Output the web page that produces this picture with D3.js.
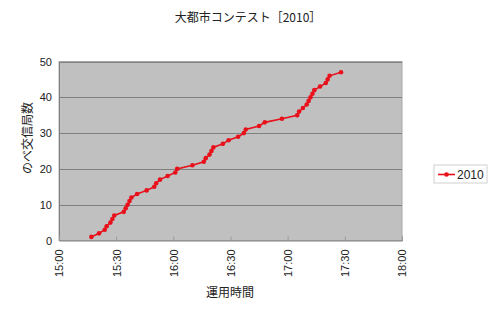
<!DOCTYPE html>
<html>
<head>
<meta charset="utf-8">
<script src="https://cdn.jsdelivr.net/npm/d3@7"></script>
<style>
  body { margin: 0; background: #fff; }
  svg { display: block; }
  text { font-family: "Liberation Sans", Arial, sans-serif; fill: #222; }
  .jp { font-family: "Noto Sans CJK JP", sans-serif; }
</style>
</head>
<body>
<svg id="chart" width="500" height="311"></svg>
<script>
// chart data
const seriesName = "2010";
const times = [
  "15:17", "15:21", "15:24", "15:25", "15:27", "15:28", "15:29", "15:34", "15:35", "15:36",
  "15:37", "15:38", "15:41", "15:46", "15:50", "15:51", "15:53", "15:57", "16:01", "16:02",
  "16:10", "16:16", "16:17", "16:19", "16:20", "16:21", "16:26", "16:29", "16:34", "16:37",
  "16:38", "16:45", "16:48", "16:57", "17:05", "17:06", "17:08", "17:10", "17:11", "17:12",
  "17:13", "17:14", "17:17", "17:20", "17:21", "17:22", "17:28"
];
const counts = [
  1, 2, 3, 4, 5, 6, 7, 8, 9, 10,
  11, 12, 13, 14, 15, 16, 17, 18, 19, 20,
  21, 22, 23, 24, 25, 26, 27, 28, 29, 30,
  31, 32, 33, 34, 35, 36, 37, 38, 39, 40,
  41, 42, 43, 44, 45, 46, 47
];
const xTickLabels = ["15:00", "15:30", "16:00", "16:30", "17:00", "17:30", "18:00"];
const yTicks = [0, 10, 20, 30, 40, 50];

const colors = {
  plotFill: "#c0c0c0",
  grid: "#808080",
  axis: "#808080",
  series: "#e8101a"
};

const parseTime = d3.timeParse("%H:%M");
const data = times.map((t, i) => ({ t: parseTime(t), v: counts[i] }));

const svg = d3.select("#chart");
const plot = { left: 59, right: 402, top: 61.5, bottom: 240.5 };

const x = d3.scaleTime()
  .domain([parseTime(xTickLabels[0]), parseTime(xTickLabels[xTickLabels.length - 1])])
  .range([plot.left, plot.right]);

const y = d3.scaleLinear()
  .domain([0, 50])
  .range([plot.bottom, plot.top]);

// plot area background
svg.append("rect")
  .attr("x", plot.left)
  .attr("y", plot.top)
  .attr("width", plot.right - plot.left)
  .attr("height", plot.bottom - plot.top)
  .attr("fill", colors.plotFill)
  .attr("stroke", "#a8a8a8")
  .attr("stroke-width", 1);

// horizontal gridlines
svg.append("g")
  .selectAll("line")
  .data(yTicks.filter(d => d > 0))
  .enter().append("line")
  .attr("x1", plot.left)
  .attr("x2", plot.right)
  .attr("y1", d => Math.round(y(d)) + 0.5)
  .attr("y2", d => Math.round(y(d)) + 0.5)
  .attr("stroke", colors.grid)
  .attr("stroke-width", 1);

// y axis
const yAxis = svg.append("g")
  .attr("transform", `translate(${plot.left},0)`)
  .call(d3.axisLeft(y).tickValues(yTicks).tickSize(0).tickPadding(7));
yAxis.select(".domain").attr("stroke", colors.axis);
yAxis.selectAll("text")
  .style("font-size", "11px")
  .style("font-family", "'Liberation Sans', Arial, sans-serif")
  .attr("fill", "#222");

// x axis, ticks pointing into the plot
const xTicks = xTickLabels.map(parseTime);
const xAxis = svg.append("g")
  .attr("transform", `translate(0,${plot.bottom})`)
  .call(d3.axisBottom(x).tickValues(xTicks).tickFormat(d3.timeFormat("%H:%M")).tickSize(-4).tickPadding(0));
xAxis.select(".domain").attr("stroke", colors.axis);
xAxis.selectAll(".tick line").attr("stroke", "#999");
xAxis.selectAll("text")
  .style("font-size", "11px")
  .style("font-family", "'Liberation Sans', Arial, sans-serif")
  .attr("fill", "#222")
  .attr("text-anchor", "end")
  .attr("dy", "0.35em")
  .attr("transform", "translate(0,9) rotate(-90)")
  .attr("x", 0)
  .attr("y", 0);

// series line + markers
const line = d3.line()
  .x(d => x(d.t))
  .y(d => y(d.v));

svg.append("path")
  .datum(data)
  .attr("d", line)
  .attr("fill", "none")
  .attr("stroke", colors.series)
  .attr("stroke-width", 1.6);

svg.append("g")
  .selectAll("circle")
  .data(data)
  .enter().append("circle")
  .attr("cx", d => x(d.t))
  .attr("cy", d => y(d.v))
  .attr("r", 2.3)
  .attr("fill", colors.series);

// title
svg.append("text")
  .attr("class", "jp")
  .attr("x", 248)
  .attr("y", 22)
  .attr("text-anchor", "middle")
  .style("font-size", "12px")
  .text("大都市コンテスト［2010］");

// axis titles
svg.append("text")
  .attr("class", "jp")
  .attr("x", 230)
  .attr("y", 297)
  .attr("text-anchor", "middle")
  .style("font-size", "12px")
  .text("運用時間");

svg.append("text")
  .attr("class", "jp")
  .attr("transform", "translate(32,138) rotate(-90)")
  .attr("text-anchor", "middle")
  .style("font-size", "12px")
  .text("のべ交信局数");

// legend
const legend = svg.append("g").attr("transform", "translate(434,165)");
legend.append("rect")
  .attr("width", 53)
  .attr("height", 18)
  .attr("fill", "#fff")
  .attr("stroke", "#d0d0d0");
legend.append("line")
  .attr("x1", 4).attr("x2", 21)
  .attr("y1", 9.5).attr("y2", 9.5)
  .attr("stroke", colors.series)
  .attr("stroke-width", 1.6);
legend.append("circle")
  .attr("cx", 12.5).attr("cy", 9.5).attr("r", 2.3)
  .attr("fill", colors.series);
legend.append("text")
  .attr("x", 23)
  .attr("y", 13.5)
  .style("font-size", "12px")
  .text(seriesName);
</script>
</body>
</html>
